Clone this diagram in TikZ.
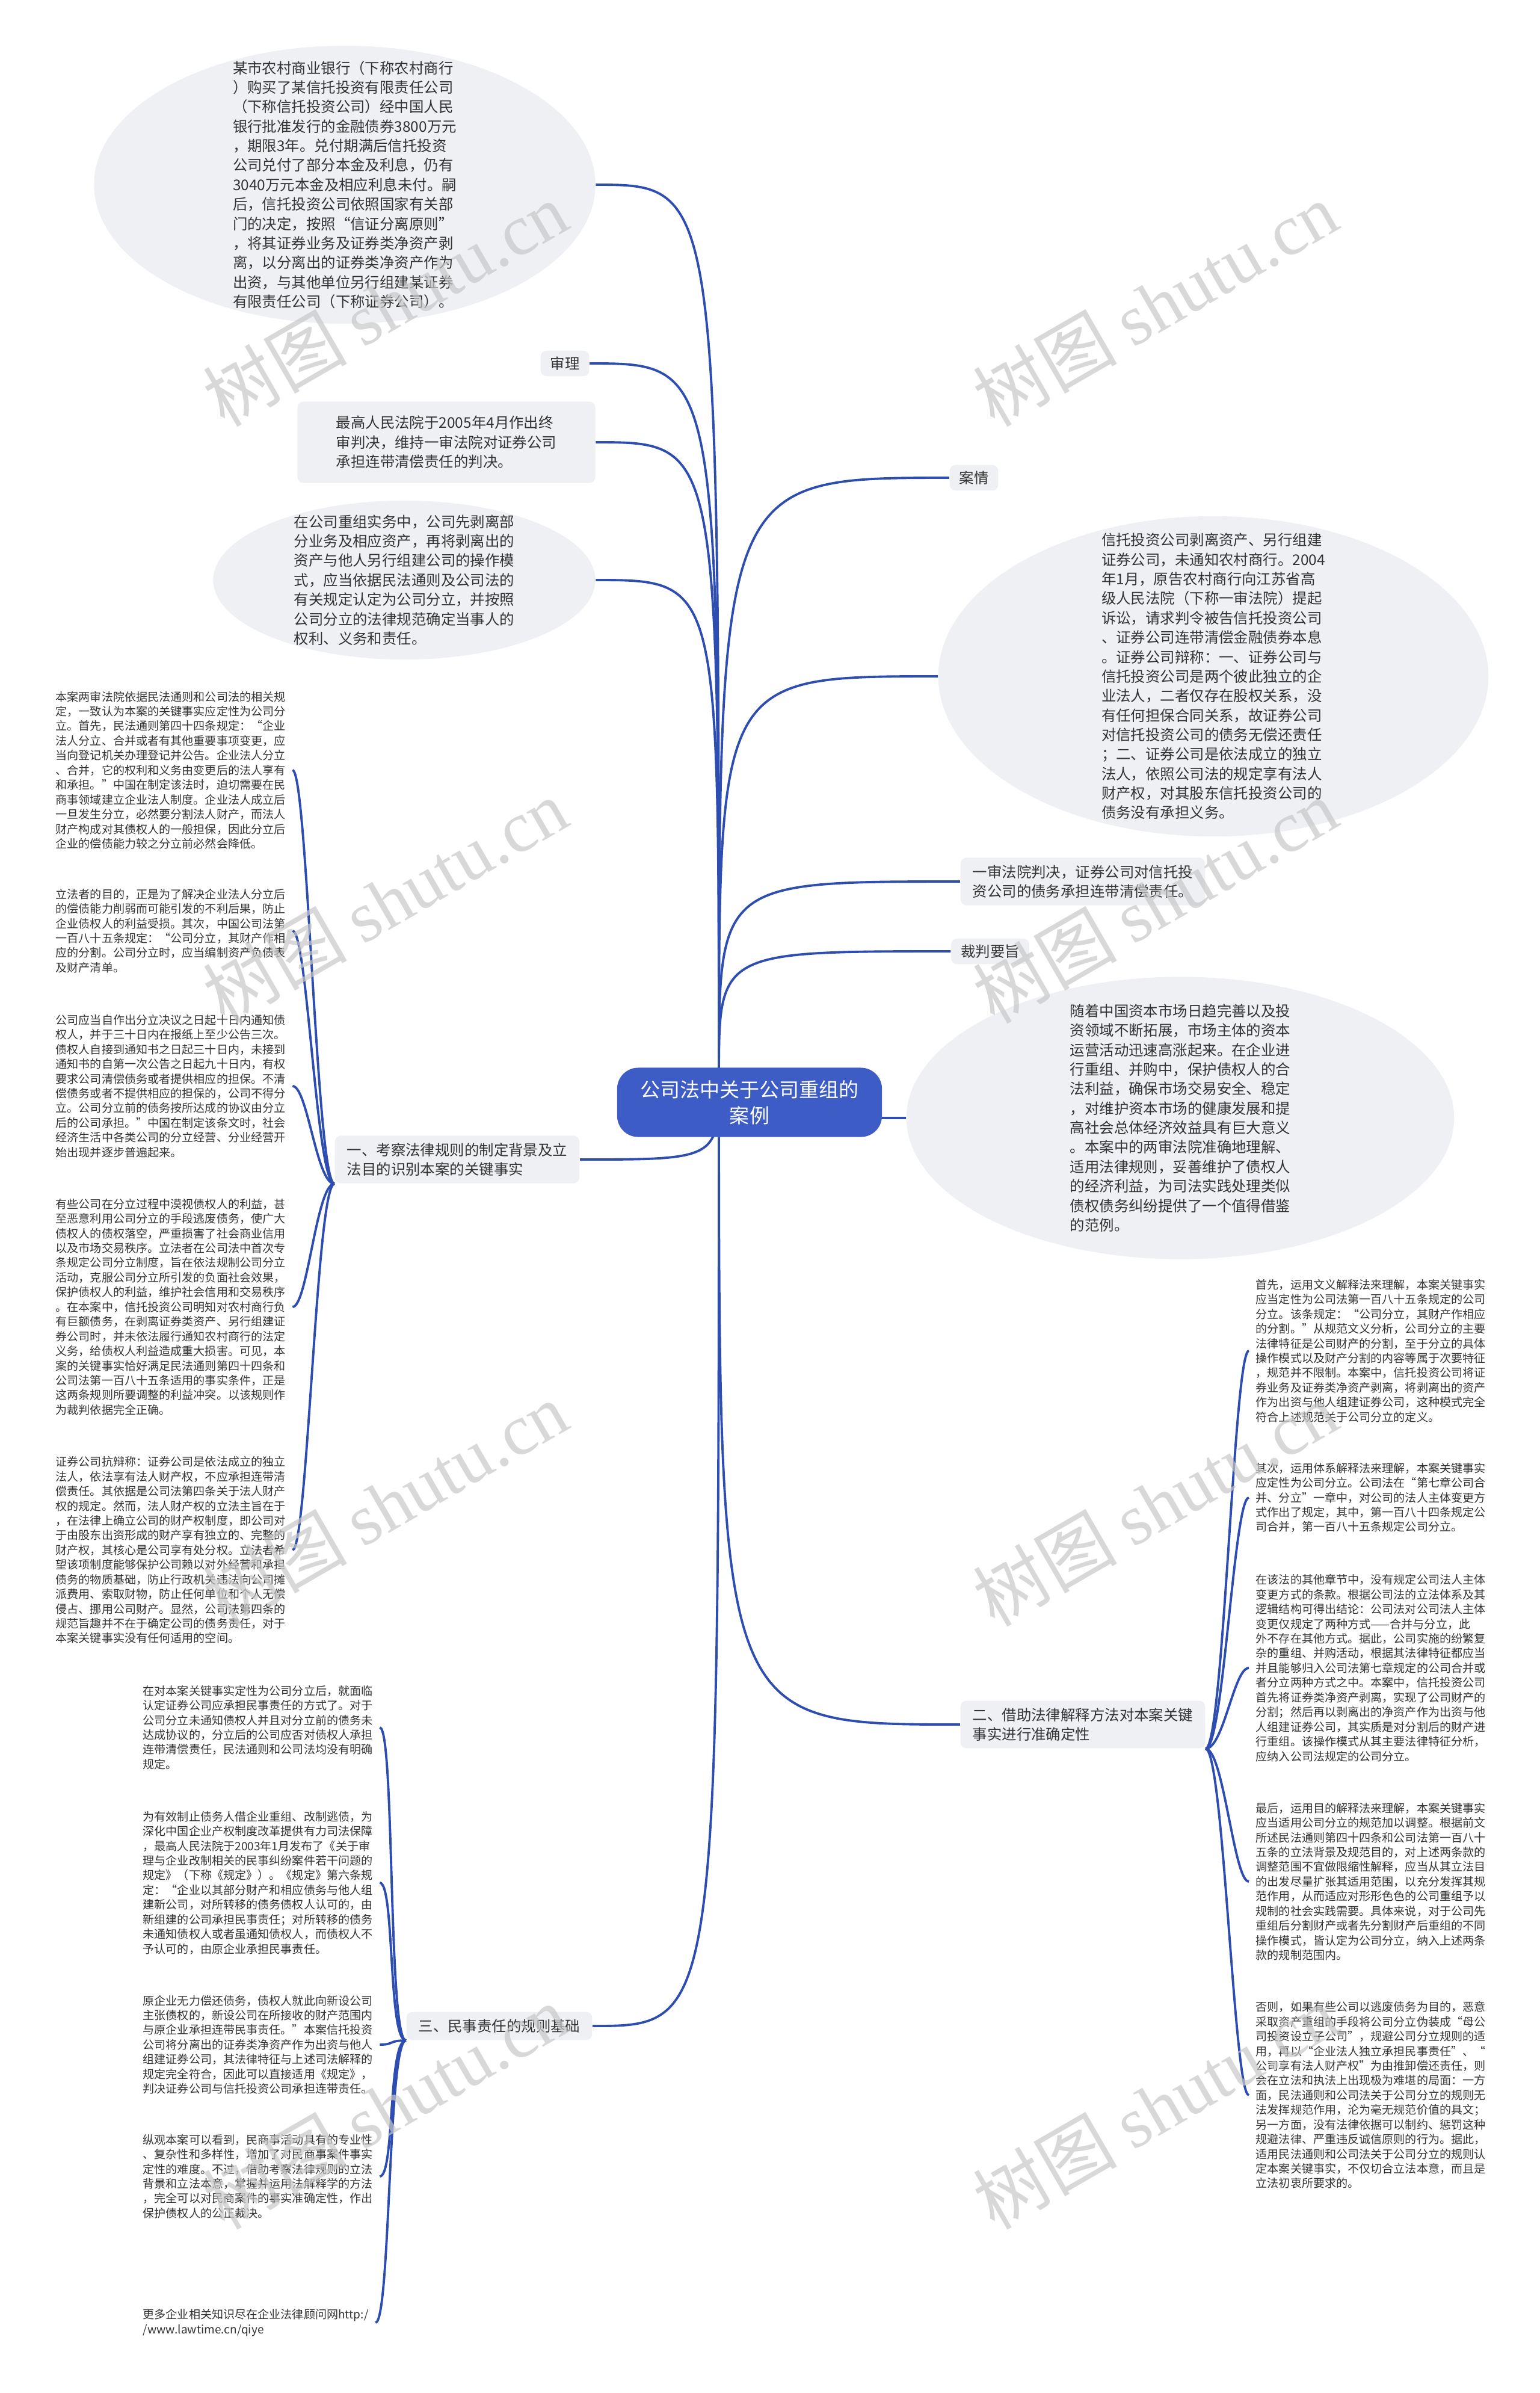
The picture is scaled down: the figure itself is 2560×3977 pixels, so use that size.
\documentclass[tikz,border=0pt]{standalone}
\usepackage{fontspec}
\setmainfont{Noto Sans CJK SC}
\newfontfamily\wmlatin{Liberation Serif}
\usetikzlibrary{shapes.geometric,backgrounds,positioning}
\definecolor{linkblue}{HTML}{2E4DB0}
\definecolor{rootblue}{HTML}{3D5CC6}
\definecolor{bubble}{HTML}{EEF0F3}
\definecolor{inkgray}{HTML}{333333}

\begin{document}
\begin{tikzpicture}[x=0.01cm,y=-0.01cm,
 link/.style={draw=linkblue,line width=1.1pt},
 bigtxt/.style={font=\fontsize{6.95}{9.2}\selectfont,text=inkgray,align=left},
 smalltxt/.style={font=\fontsize{5.43}{6.95}\selectfont,text=inkgray,align=left,inner xsep=0.11cm,inner ysep=0pt,anchor=west},
 cloud/.style={ellipse,fill=bubble,bigtxt,inner sep=-1.5cm},
 tagbox/.style={rounded corners=0.1cm,fill=bubble,bigtxt,inner xsep=0.16cm,inner ysep=0.1cm},
 topic/.style={rounded corners=0.1cm,fill=bubble,bigtxt,inner xsep=0.2cm,inner ysep=0.12cm},
 root/.style={rounded corners=0.35cm,fill=rootblue,text=white,align=center,font=\fontsize{9.4}{12.3}\selectfont,minimum width=4.4cm,minimum height=1.15cm},
 wmark/.style={rotate=30,text=black!22,opacity=0.7,font=\fontsize{34}{34}\selectfont}]
\useasboundingbox (0,0) rectangle (2560,3977);

% centre
\node[root] (root) at (1246,1832) {公司法中关于公司重组的\\案例};
\coordinate (hub) at (1195,1790);

% left, upper
\node[cloud,minimum width=8.33cm,minimum height=4.62cm] (story) at (573,307) {某市农村商业银行（下称农村商行\\）购买了某信托投资有限责任公司\\（下称信托投资公司）经中国人民\\银行批准发行的金融债券3800万元\\，期限3年。兑付期满后信托投资\\公司兑付了部分本金及利息，仍有\\3040万元本金及相应利息未付。嗣\\后，信托投资公司依照国家有关部\\门的决定，按照“信证分离原则”\\，将其证券业务及证券类净资产剥\\离，以分离出的证券类净资产作为\\出资，与其他单位另行组建某证券\\有限责任公司（下称证券公司）。};
\node[tagbox] (trial) at (939,604) {审理};
\node[topic,minimum width=4.95cm,minimum height=1.35cm] (final) at (742,735) {最高人民法院于2005年4月作出终\\审判决，维持一审法院对证券公司\\承担连带清偿责任的判决。};
\node[cloud,minimum width=6.35cm,minimum height=2.64cm] (gist) at (672,964) {在公司重组实务中，公司先剥离部\\分业务及相应资产，再将剥离出的\\资产与他人另行组建公司的操作模\\式，应当依据民法通则及公司法的\\有关规定认定为公司分立，并按照\\公司分立的法律规范确定当事人的\\权利、义务和责任。};

% right, upper
\node[tagbox] (facts) at (1619,794) {案情};
\node[cloud,minimum width=9.14cm,minimum height=5.32cm] (plea) at (2017,1124) {信托投资公司剥离资产、另行组建\\证券公司，未通知农村商行。2004\\年1月，原告农村商行向江苏省高\\级人民法院（下称一审法院）提起\\诉讼，请求判令被告信托投资公司\\、证券公司连带清偿金融债券本息\\。证券公司辩称：一、证券公司与\\信托投资公司是两个彼此独立的企\\业法人，二者仅存在股权关系，没\\有任何担保合同关系，故证券公司\\对信托投资公司的债务无偿还责任\\；二、证券公司是依法成立的独立\\法人，依照公司法的规定享有法人\\财产权，对其股东信托投资公司的\\债务没有承担义务。};
\node[topic] (firstrul) at (1800,1465) {一审法院判决，证券公司对信托投\\资公司的债务承担连带清偿责任。};
\node[tagbox] (rule) at (1646,1581) {裁判要旨};
\node[cloud,minimum width=9.1cm,minimum height=4.69cm] (comment) at (1962,1858) {随着中国资本市场日趋完善以及投\\资领域不断拓展，市场主体的资本\\运营活动迅速高涨起来。在企业进\\行重组、并购中，保护债权人的合\\法利益，确保市场交易安全、稳定\\，对维护资本市场的健康发展和提\\高社会总体经济效益具有巨大意义\\。本案中的两审法院准确地理解、\\适用法律规则，妥善维护了债权人\\的经济利益，为司法实践处理类似\\债权债务纠纷提供了一个值得借鉴\\的范例。};

% three main parts
\node[topic] (partone) at (760,1927) {一、考察法律规则的制定背景及立\\法目的识别本案的关键事实};
\node[topic] (parttwo) at (1800,2866) {二、借助法律解释方法对本案关键\\事实进行准确定性};
\node[topic] (partthree) at (830,3367) {三、民事责任的规则基础};

% part one
\node[smalltxt] (a1) at (81,1280) {本案两审法院依据民法通则和公司法的相关规\\定，一致认为本案的关键事实应定性为公司分\\立。首先，民法通则第四十四条规定：“企业\\法人分立、合并或者有其他重要事项变更，应\\当向登记机关办理登记并公告。企业法人分立\\、合并，它的权利和义务由变更后的法人享有\\和承担。”中国在制定该法时，迫切需要在民\\商事领域建立企业法人制度。企业法人成立后\\一旦发生分立，必然要分割法人财产，而法人\\财产构成对其债权人的一般担保，因此分立后\\企业的偿债能力较之分立前必然会降低。};
\node[smalltxt] (a2) at (81,1547) {立法者的目的，正是为了解决企业法人分立后\\的偿债能力削弱而可能引发的不利后果，防止\\企业债权人的利益受损。其次，中国公司法第\\一百八十五条规定：“公司分立，其财产作相\\应的分割。公司分立时，应当编制资产负债表\\及财产清单。};
\node[smalltxt] (a3) at (81,1805) {公司应当自作出分立决议之日起十日内通知债\\权人，并于三十日内在报纸上至少公告三次。\\债权人自接到通知书之日起三十日内，未接到\\通知书的自第一次公告之日起九十日内，有权\\要求公司清偿债务或者提供相应的担保。不清\\偿债务或者不提供相应的担保的，公司不得分\\立。公司分立前的债务按所达成的协议由分立\\后的公司承担。”中国在制定该条文时，社会\\经济生活中各类公司的分立经营、分业经营开\\始出现并逐步普遍起来。};
\node[smalltxt] (a4) at (81,2172) {有些公司在分立过程中漠视债权人的利益，甚\\至恶意利用公司分立的手段逃废债务，使广大\\债权人的债权落空，严重损害了社会商业信用\\以及市场交易秩序。立法者在公司法中首次专\\条规定公司分立制度，旨在依法规制公司分立\\活动，克服公司分立所引发的负面社会效果，\\保护债权人的利益，维护社会信用和交易秩序\\。在本案中，信托投资公司明知对农村商行负\\有巨额债务，在剥离证券类资产、另行组建证\\券公司时，并未依法履行通知农村商行的法定\\义务，给债权人利益造成重大损害。可见，本\\案的关键事实恰好满足民法通则第四十四条和\\公司法第一百八十五条适用的事实条件，正是\\这两条规则所要调整的利益冲突。以该规则作\\为裁判依据完全正确。};
\node[smalltxt] (a5) at (81,2576) {证券公司抗辩称：证券公司是依法成立的独立\\法人，依法享有法人财产权，不应承担连带清\\偿责任。其依据是公司法第四条关于法人财产\\权的规定。然而，法人财产权的立法主旨在于\\，在法律上确立公司的财产权制度，即公司对\\于由股东出资形成的财产享有独立的、完整的\\财产权，其核心是公司享有处分权。立法者希\\望该项制度能够保护公司赖以对外经营和承担\\债务的物质基础，防止行政机关违法向公司摊\\派费用、索取财物，防止任何单位和个人无偿\\侵占、挪用公司财产。显然，公司法第四条的\\规范旨趣并不在于确定公司的债务责任，对于\\本案关键事实没有任何适用的空间。};

% part two
\node[smalltxt] (b1) at (2076,2245) {首先，运用文义解释法来理解，本案关键事实\\应当定性为公司法第一百八十五条规定的公司\\分立。该条规定：“公司分立，其财产作相应\\的分割。”从规范文义分析，公司分立的主要\\法律特征是公司财产的分割，至于分立的具体\\操作模式以及财产分割的内容等属于次要特征\\，规范并不限制。本案中，信托投资公司将证\\券业务及证券类净资产剥离，将剥离出的资产\\作为出资与他人组建证券公司，这种模式完全\\符合上述规范关于公司分立的定义。};
\node[smalltxt] (b2) at (2076,2489) {其次，运用体系解释法来理解，本案关键事实\\应定性为公司分立。公司法在“第七章公司合\\并、分立”一章中，对公司的法人主体变更方\\式作出了规定，其中，第一百八十四条规定公\\司合并，第一百八十五条规定公司分立。};
\node[smalltxt] (b3) at (2076,2772) {在该法的其他章节中，没有规定公司法人主体\\变更方式的条款。根据公司法的立法体系及其\\逻辑结构可得出结论：公司法对公司法人主体\\变更仅规定了两种方式——合并与分立，此\\外不存在其他方式。据此，公司实施的纷繁复\\杂的重组、并购活动，根据其法律特征都应当\\并且能够归入公司法第七章规定的公司合并或\\者分立两种方式之中。本案中，信托投资公司\\首先将证券类净资产剥离，实现了公司财产的\\分割；然后再以剥离出的净资产作为出资与他\\人组建证券公司，其实质是对分割后的财产进\\行重组。该操作模式从其主要法律特征分析，\\应纳入公司法规定的公司分立。};
\node[smalltxt] (b4) at (2076,3127) {最后，运用目的解释法来理解，本案关键事实\\应当适用公司分立的规范加以调整。根据前文\\所述民法通则第四十四条和公司法第一百八十\\五条的立法背景及规范目的，对上述两条款的\\调整范围不宜做限缩性解释，应当从其立法目\\的出发尽量扩张其适用范围，以充分发挥其规\\范作用，从而适应对形形色色的公司重组予以\\规制的社会实践需要。具体来说，对于公司先\\重组后分割财产或者先分割财产后重组的不同\\操作模式，皆认定为公司分立，纳入上述两条\\款的规制范围内。};
\node[smalltxt] (b5) at (2076,3482) {否则，如果有些公司以逃废债务为目的，恶意\\采取资产重组的手段将公司分立伪装成“母公\\司投资设立子公司”，规避公司分立规则的适\\用，再以“企业法人独立承担民事责任”、“\\公司享有法人财产权”为由推卸偿还责任，则\\会在立法和执法上出现极为难堪的局面：一方\\面，民法通则和公司法关于公司分立的规则无\\法发挥规范作用，沦为毫无规范价值的具文；\\另一方面，没有法律依据可以制约、惩罚这种\\规避法律、严重违反诚信原则的行为。据此，\\适用民法通则和公司法关于公司分立的规则认\\定本案关键事实，不仅切合立法本意，而且是\\立法初衷所要求的。};

% part three
\node[smalltxt] (c1) at (226,2871) {在对本案关键事实定性为公司分立后，就面临\\认定证券公司应承担民事责任的方式了。对于\\公司分立未通知债权人并且对分立前的债务未\\达成协议的，分立后的公司应否对债权人承担\\连带清偿责任，民法通则和公司法均没有明确\\规定。};
\node[smalltxt] (c2) at (226,3129) {为有效制止债务人借企业重组、改制逃债，为\\深化中国企业产权制度改革提供有力司法保障\\，最高人民法院于2003年1月发布了《关于审\\理与企业改制相关的民事纠纷案件若干问题的\\规定》（下称《规定》）。《规定》第六条规\\定：“企业以其部分财产和相应债务与他人组\\建新公司，对所转移的债务债权人认可的，由\\新组建的公司承担民事责任；对所转移的债务\\未通知债权人或者虽通知债权人，而债权人不\\予认可的，由原企业承担民事责任。};
\node[smalltxt] (c3) at (226,3398) {原企业无力偿还债务，债权人就此向新设公司\\主张债权的，新设公司在所接收的财产范围内\\与原企业承担连带民事责任。”本案信托投资\\公司将分离出的证券类净资产作为出资与他人\\组建证券公司，其法律特征与上述司法解释的\\规定完全符合，因此可以直接适用《规定》，\\判决证券公司与信托投资公司承担连带责任。};
\node[smalltxt] (c4) at (226,3617) {纵观本案可以看到，民商事活动具有的专业性\\、复杂性和多样性，增加了对民商事案件事实\\定性的难度。不过，借助考察法律规则的立法\\背景和立法本意，掌握并运用法解释学的方法\\，完全可以对民商案件的事实准确定性，作出\\保护债权人的公正裁决。};
\node[smalltxt] (c5) at (226,3860) {更多企业相关知识尽在企业法律顾问网http:/\\/www.lawtime.cn/qiye};

\begin{scope}[on background layer]
% from the centre
\foreach \n in {story,trial,final,gist,partone,partthree}
  \draw[link] (hub) .. controls (hub |- \n.east) and (hub |- \n.east) .. (\n.east);
\foreach \n in {facts,plea,firstrul,rule,comment,parttwo}
  \draw[link] (hub) .. controls (hub |- \n.west) and (hub |- \n.west) .. (\n.west);
% parts
\foreach \n in {a1,a2,a3,a4,a5}
  \draw[link] (partone.south west) .. controls +(-30,0) and +(25,0) .. (\n.east);
\foreach \n in {b1,b2,b3,b4,b5}
  \draw[link] (parttwo.south east) .. controls +(30,0) and +(-25,0) .. (\n.west);
\foreach \n in {c1,c2,c3,c4,c5}
  \draw[link] (partthree.south west) .. controls +(-30,0) and +(25,0) .. (\n.east);
\end{scope}

% watermark
\foreach \wx/\wy [count=\i] in {640/505,1920/505,640/1497,1920/1497,640/2499,1920/2499,640/3501,1920/3501}
  \node[wmark] (wm\i) at (\wx,\wy) {树图 {\wmlatin shutu.cn}};
\end{tikzpicture}
\end{document}
